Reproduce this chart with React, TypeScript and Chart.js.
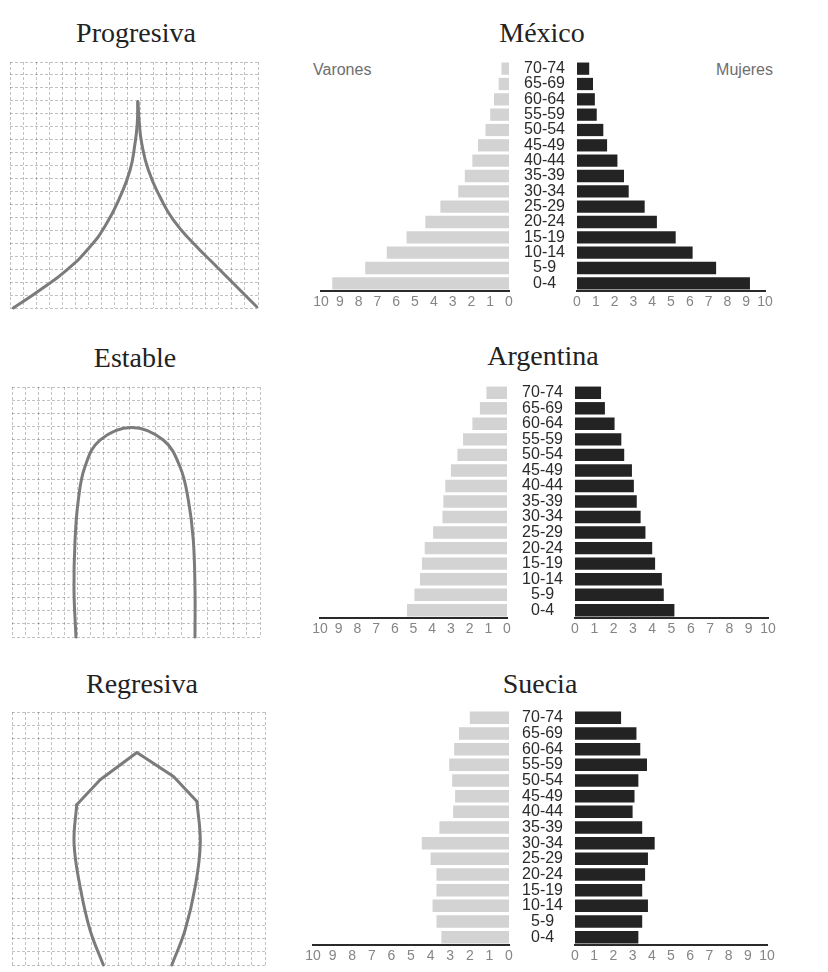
import React, { useEffect, useRef } from 'react';
import { Chart, registerables } from 'chart.js';

Chart.register(...registerables);

// ---------- data ----------
const ageGroups = ['70-74', '65-69', '60-64', '55-59', '50-54', '45-49', '40-44', '35-39', '30-34', '25-29', '20-24', '15-19', '10-14', '5-9', '0-4'];

const mexicoMale = [0.4, 0.55, 0.8, 1.0, 1.25, 1.65, 1.95, 2.35, 2.7, 3.65, 4.45, 5.45, 6.5, 7.65, 9.4];
const mexicoFemale = [0.65, 0.85, 0.95, 1.05, 1.4, 1.6, 2.15, 2.5, 2.75, 3.6, 4.25, 5.25, 6.15, 7.4, 9.2];

const argentinaMale = [1.1, 1.45, 1.85, 2.35, 2.65, 3.0, 3.3, 3.4, 3.45, 3.95, 4.4, 4.55, 4.65, 4.95, 5.35];
const argentinaFemale = [1.35, 1.55, 2.05, 2.4, 2.55, 2.95, 3.05, 3.2, 3.4, 3.65, 4.0, 4.15, 4.5, 4.6, 5.15];

const swedenMale = [2.0, 2.55, 2.8, 3.05, 2.9, 2.75, 2.85, 3.55, 4.45, 4.0, 3.7, 3.7, 3.9, 3.7, 3.45];
const swedenFemale = [2.4, 3.2, 3.4, 3.75, 3.3, 3.1, 3.0, 3.5, 4.15, 3.8, 3.65, 3.5, 3.8, 3.5, 3.3];

const axisMin = 0;
const axisMax = 10;

// schematic shapes (grid units, 19 x 19 grid)
const progresivaLeft = [[0.25, 0], [2.3, 1.39], [4.34, 2.93], [6.13, 4.73], [7.41, 6.54], [8.43, 8.59], [9.2, 10.66], [9.58, 12.72], [9.75, 14.26], [9.79, 15.93]];
const progresivaRight = [[9.8, 15.93], [9.91, 14.26], [10.09, 12.72], [10.6, 10.66], [11.49, 8.59], [12.51, 6.8], [14.05, 5.0], [15.84, 3.19], [18.9, 0.1]];

const estableCurve = [[4.9, 0], [4.75, 3.57], [4.83, 7.37], [5.08, 10.41], [5.59, 12.94], [6.74, 14.97], [9.17, 15.93], [11.59, 14.97], [12.87, 12.94], [13.51, 10.41], [13.89, 7.37], [14.02, 3.57], [14.02, 0]];

const regresivaLeft = [[6.86, 0], [5.86, 2.63], [5.11, 5.89], [4.66, 9.15], [4.86, 12.03]];
const regresivaTop = [[4.86, 12.03], [6.62, 13.91], [9.38, 15.96], [12.13, 14.16], [13.89, 12.28]];
const regresivaRight = [[13.89, 12.28], [14.14, 9.15], [13.76, 5.89], [13.0, 2.63], [12.0, 0]];

// ---------- styles ----------
const sans = '"Liberation Sans", Arial, sans-serif';
const serif = '"Liberation Serif", "Times New Roman", serif';
const maleColor = '#d3d3d3';
const femaleColor = '#232323';
const tickColor = '#858585';
const labelColor = '#2b2b2b';
const curveColor = '#7b7b7b';
const gridColor = 'rgba(0,0,0,0.24)';

type Box = { l: number; t: number; r: number; b: number };

function ChartCanvas({ left, top, width, height, config }: { left: number; top: number; width: number; height: number; config: any }) {
  const ref = useRef<HTMLCanvasElement | null>(null);
  useEffect(() => {
    const chart = new Chart(ref.current as HTMLCanvasElement, config);
    return () => chart.destroy();
  }, []);
  return (
    <canvas
      ref={ref}
      width={width}
      height={height}
      style={{ position: 'absolute', left, top, width, height }}
    />
  );
}

const PADL = 14;
const PADR = 12;
const PADT = 26;
const PADB = 2;
const AXH = 24;
const YW = 70;

function xAxis(reverse: boolean) {
  return {
    reverse,
    min: axisMin,
    max: axisMax,
    grid: { display: false, drawTicks: false },
    border: { display: true, color: '#2a2a2a', width: 2 },
    ticks: {
      stepSize: 1,
      autoSkip: false,
      maxRotation: 0,
      padding: 3,
      color: tickColor,
      font: { family: sans, size: 14 },
    },
    afterFit: (s: any) => {
      s.height = AXH;
    },
  };
}

function MaleHalf({ values, plot }: { values: number[]; plot: Box }) {
  const width = plot.r - plot.l + PADL + PADR;
  const height = plot.b - plot.t + PADT + PADB + AXH;
  const config = {
    type: 'bar',
    data: {
      labels: ageGroups,
      datasets: [{ data: values, backgroundColor: maleColor, barPercentage: 0.8, categoryPercentage: 1 }],
    },
    options: {
      indexAxis: 'y',
      responsive: false,
      animation: false,
      layout: { padding: { left: PADL, right: PADR, top: PADT, bottom: PADB } },
      plugins: { legend: { display: false }, tooltip: { enabled: false } },
      scales: {
        x: xAxis(true),
        y: { display: false },
      },
    },
  };
  return <ChartCanvas left={plot.l - PADL} top={plot.t - PADT} width={width} height={height} config={config} />;
}

function FemaleHalf({ values, plot }: { values: number[]; plot: Box }) {
  const width = plot.r - plot.l + YW + PADR;
  const height = plot.b - plot.t + PADT + PADB + AXH;
  const config = {
    type: 'bar',
    data: {
      labels: ageGroups,
      datasets: [{ data: values, backgroundColor: femaleColor, barPercentage: 0.8, categoryPercentage: 1 }],
    },
    options: {
      indexAxis: 'y',
      responsive: false,
      animation: false,
      layout: { padding: { left: 0, right: PADR, top: PADT, bottom: PADB } },
      plugins: { legend: { display: false }, tooltip: { enabled: false } },
      scales: {
        x: xAxis(false),
        y: {
          grid: { display: false, drawTicks: false },
          border: { display: false },
          ticks: {
            autoSkip: false,
            crossAlign: 'center',
            padding: 12,
            color: labelColor,
            font: { family: sans, size: 16 },
          },
          afterFit: (s: any) => {
            s.width = YW;
          },
        },
      },
    },
  };
  return <ChartCanvas left={plot.l - YW} top={plot.t - PADT} width={width} height={height} config={config} />;
}

function Diagram({ box, series }: { box: Box; series: { pts: number[][]; tension: number }[] }) {
  const m = 4;
  const width = box.r - box.l + 2 * m;
  const height = box.b - box.t + 2 * m;
  const config = {
    type: 'scatter',
    data: {
      datasets: series.map((s) => ({
        data: s.pts.map(([x, y]) => ({ x, y })),
        showLine: true,
        pointRadius: 0,
        borderColor: curveColor,
        borderWidth: 3,
        tension: s.tension,
        clip: false,
        borderCapStyle: 'round',
        borderJoinStyle: 'round',
      })),
    },
    options: {
      responsive: false,
      animation: false,
      layout: { padding: m },
      plugins: { legend: { display: false }, tooltip: { enabled: false } },
      scales: {
        x: {
          min: 0,
          max: 19,
          ticks: { display: false, stepSize: 1 },
          grid: { color: gridColor, drawTicks: false, lineWidth: 1 },
          border: { display: false, dash: [3, 2] },
          afterFit: (s: any) => {
            s.height = 0;
          },
        },
        y: {
          min: 0,
          max: 19,
          ticks: { display: false, stepSize: 1 },
          grid: { color: gridColor, drawTicks: false, lineWidth: 1 },
          border: { display: false, dash: [3, 2] },
          afterFit: (s: any) => {
            s.width = 0;
          },
        },
      },
    },
  };
  return <ChartCanvas left={box.l - m} top={box.t - m} width={width} height={height} config={config} />;
}

function Title({ text, cx, baseline }: { text: string; cx: number; baseline: number }) {
  return (
    <div
      style={{
        position: 'absolute',
        left: cx - 150,
        width: 300,
        top: baseline - 24,
        textAlign: 'center',
        fontFamily: serif,
        fontSize: 28,
        lineHeight: '28px',
        color: '#222',
      }}
    >
      {text}
    </div>
  );
}

function SmallLabel({ text, x, baseline, align }: { text: string; x: number; baseline: number; align: 'left' | 'right' }) {
  const style: any = {
    position: 'absolute',
    top: baseline - 13.5,
    fontFamily: sans,
    fontSize: 16,
    lineHeight: '16px',
    color: '#6e6e6e',
    whiteSpace: 'nowrap',
  };
  if (align === 'left') style.left = x;
  else {
    style.left = x - 200;
    style.width = 200;
    style.textAlign = 'right';
  }
  return <div style={style}>{text}</div>;
}

export default function App() {
  return (
    <div style={{ position: 'absolute', left: 0, top: 0, width: 828, height: 972, background: '#fff' }}>
      <Title text="Progresiva" cx={136} baseline={43} />
      <Title text="México" cx={542} baseline={43} />
      <Title text="Estable" cx={135} baseline={368} />
      <Title text="Argentina" cx={543} baseline={366} />
      <Title text="Regresiva" cx={142} baseline={694} />
      <Title text="Suecia" cx={540} baseline={694} />

      <SmallLabel text="Varones" x={313} baseline={75} align="left" />
      <SmallLabel text="Mujeres" x={773} baseline={75} align="right" />

      <Diagram
        box={{ l: 10, t: 62, r: 258, b: 308 }}
        series={[
          { pts: progresivaLeft, tension: 0.5 },
          { pts: progresivaRight, tension: 0.5 },
        ]}
      />
      <Diagram box={{ l: 12, t: 387, r: 260, b: 637 }} series={[{ pts: estableCurve, tension: 0.4 }]} />
      <Diagram
        box={{ l: 12, t: 712, r: 265, b: 965 }}
        series={[
          { pts: regresivaLeft, tension: 0.4 },
          { pts: regresivaTop, tension: 0 },
          { pts: regresivaRight, tension: 0.4 },
        ]}
      />

      <MaleHalf values={mexicoMale} plot={{ l: 321, t: 61, r: 509, b: 291 }} />
      <FemaleHalf values={mexicoFemale} plot={{ l: 577, t: 61, r: 765, b: 291 }} />

      <MaleHalf values={argentinaMale} plot={{ l: 320, t: 384.5, r: 507, b: 618 }} />
      <FemaleHalf values={argentinaFemale} plot={{ l: 575, t: 384.5, r: 768, b: 618 }} />

      <MaleHalf values={swedenMale} plot={{ l: 313, t: 709.5, r: 509, b: 945 }} />
      <FemaleHalf values={swedenFemale} plot={{ l: 575, t: 709.5, r: 767, b: 945 }} />
    </div>
  );
}
